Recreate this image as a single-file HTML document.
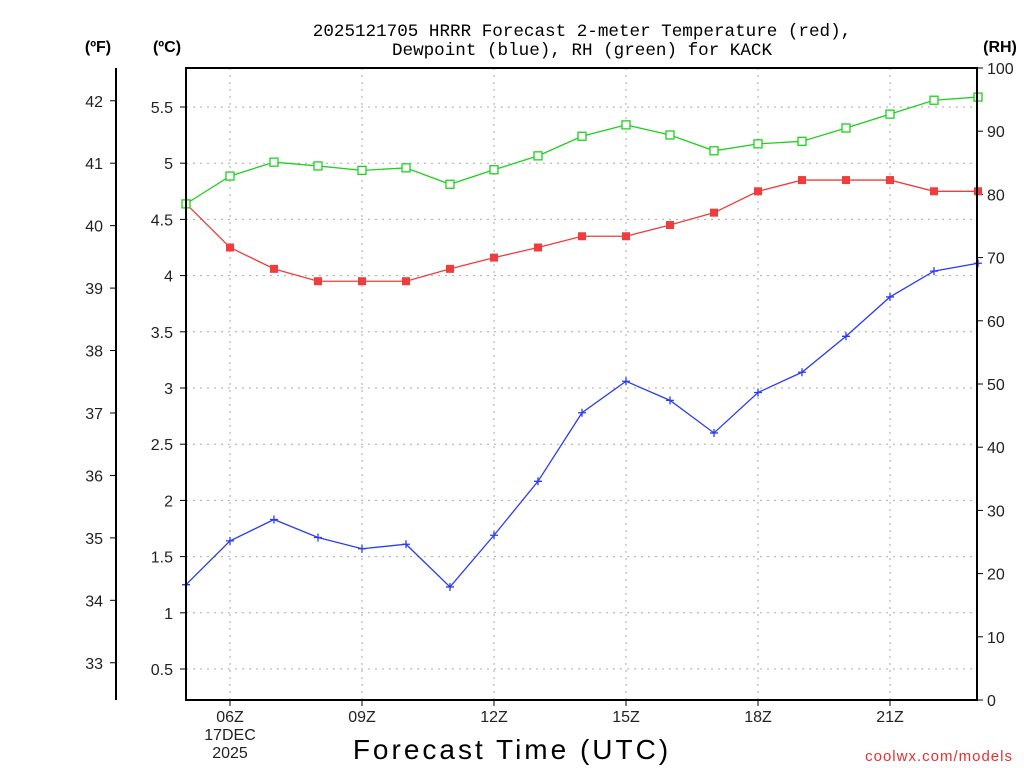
<!DOCTYPE html>
<html><head><meta charset="utf-8"><style>
body{margin:0;background:#fff;}
svg{display:block;font-family:"Liberation Sans",sans-serif;}
</style></head><body>
<svg id="chart" width="1024" height="768" viewBox="0 0 1024 768">
<text x="582" y="36" font-size="17.6" text-anchor="middle" font-family="Liberation Mono, monospace">2025121705 HRRR Forecast 2-meter Temperature (red),</text>
<text x="582" y="55" font-size="17.6" text-anchor="middle" font-family="Liberation Mono, monospace">Dewpoint (blue), RH (green) for KACK</text>
<text x="98" y="52" font-size="16" font-weight="bold" text-anchor="middle">(ºF)</text>
<text x="167" y="52" font-size="16" font-weight="bold" text-anchor="middle">(ºC)</text>
<text x="1000" y="52" font-size="16" font-weight="bold" text-anchor="middle">(RH)</text>
<text x="512" y="759" font-size="28" text-anchor="middle" letter-spacing="3">Forecast Time (UTC)</text>
<text x="1013" y="761" font-size="15" fill="#e83030" text-anchor="end" letter-spacing="1">coolwx.com/models</text>
<g id="grid"></g><g id="axes"></g><g id="series"></g>
<rect x="186" y="68" width="791" height="632" fill="none" stroke="#000" stroke-width="2"/>
<line x1="116" y1="68" x2="116" y2="700" stroke="#000" stroke-width="2"/>
</svg>
<script>
const hours=[5,6,7,8,9,10,11,12,13,14,15,16,17,18,19,20,21,22,23];
const tempC=[4.64,4.25,4.06,3.95,3.95,3.95,4.06,4.16,4.25,4.35,4.35,4.45,4.56,4.75,4.85,4.85,4.85,4.75,4.75];
const dewC=[1.25,1.64,1.83,1.67,1.57,1.61,1.23,1.69,2.17,2.78,3.06,2.89,2.60,2.96,3.14,3.46,3.81,4.04,4.11];
const rh=[78.5,82.9,85.1,84.5,83.8,84.2,81.6,83.9,86.1,89.2,91.0,89.4,86.9,88.0,88.4,90.5,92.7,94.9,95.4];
const cTicks=[0.5,1,1.5,2,2.5,3,3.5,4,4.5,5,5.5];
const fTicks=[33,34,35,36,37,38,39,40,41,42];
const rhTicks=[0,10,20,30,40,50,60,70,80,90,100];
const xTickHours=[6,9,12,15,18,21];
const xTickLabels=["06Z","09Z","12Z","15Z","18Z","21Z"];
const NS="http://www.w3.org/2000/svg";
const X=h=>186+(h-5)*44;
const YC=c=>107+(5.5-c)*112.4;
const YF=f=>YC((f-32)/1.8);
const YR=r=>700-r*6.32;
function mk(p,tag,a){const e=document.createElementNS(NS,tag);for(const k in a)e.setAttribute(k,a[k]);p.appendChild(e);return e;}
const grid=document.getElementById('grid'),axes=document.getElementById('axes'),ser=document.getElementById('series');
cTicks.forEach(c=>{const y=YC(c);
 const g=mk(grid,'line',{x1:186,x2:977,y1:y,y2:y,stroke:'#aaa','stroke-dasharray':'2,5'});
 
 const t=mk(axes,'line',{x1:180,x2:186,y1:y,y2:y,stroke:'#000'});
 
 const l=mk(axes,'text',{x:173,y:y+6,'font-size':16,'text-anchor':'end',fill:'#222'});l.textContent=c;
 });
fTicks.forEach(f=>{const y=YF(f);
 const t=mk(axes,'line',{x1:110,x2:116,y1:y,y2:y,stroke:'#000'});
 
 const l=mk(axes,'text',{x:103,y:y+6,'font-size':16,'text-anchor':'end',fill:'#222'});l.textContent=f;
 });
rhTicks.forEach(r=>{const y=YR(r);
 const t=mk(axes,'line',{x1:977,x2:983,y1:y,y2:y,stroke:'#000'});
 
 const l=mk(axes,'text',{x:987,y:y+6,'font-size':16,fill:'#222'});l.textContent=r;
 });
xTickHours.forEach((h,i)=>{const x=X(h);
 const g=mk(grid,'line',{x1:x,x2:x,y1:68,y2:700,stroke:'#aaa','stroke-dasharray':'2,5'});
 
 const t=mk(axes,'line',{x1:x,x2:x,y1:700,y2:706,stroke:'#000'});
 
 const l=mk(axes,'text',{x:x,y:722,'font-size':16,'text-anchor':'middle',fill:'#222'});l.textContent=xTickLabels[i];
 });
[["17DEC",740],["2025",758]].forEach(([s,y])=>{const l=mk(axes,'text',{x:X(6),y:y,'font-size':16,'text-anchor':'middle',fill:'#222'});l.textContent=s;
 });
function line(vals,yf,col,name){
 const pl=mk(ser,'polyline',{points:vals.map((v,i)=>X(hours[i])+','+yf(v)).join(' '),fill:'none',stroke:col,'stroke-width':1.3});
 
}
line(tempC,YC,'#f03c3c','temperature');
line(dewC,YC,'#2a3cf0','dewpoint');
line(rh,YR,'#20d020','rh');
tempC.forEach((v,i)=>{const m=mk(ser,'rect',{x:X(hours[i])-4,y:YC(v)-4,width:8,height:8,fill:'#f03c3c'});
 });
dewC.forEach((v,i)=>{const x=X(hours[i]),y=YC(v);const m=mk(ser,'path',{d:`M${x-4},${y}H${x+4}M${x},${y-4}V${y+4}`,stroke:'#2a3cf0','stroke-width':1.3});
 });
rh.forEach((v,i)=>{const m=mk(ser,'rect',{x:X(hours[i])-4,y:YR(v)-4,width:8,height:8,fill:'#fff',stroke:'#20d020','stroke-width':1.3});
 });
</script>
</body></html>
